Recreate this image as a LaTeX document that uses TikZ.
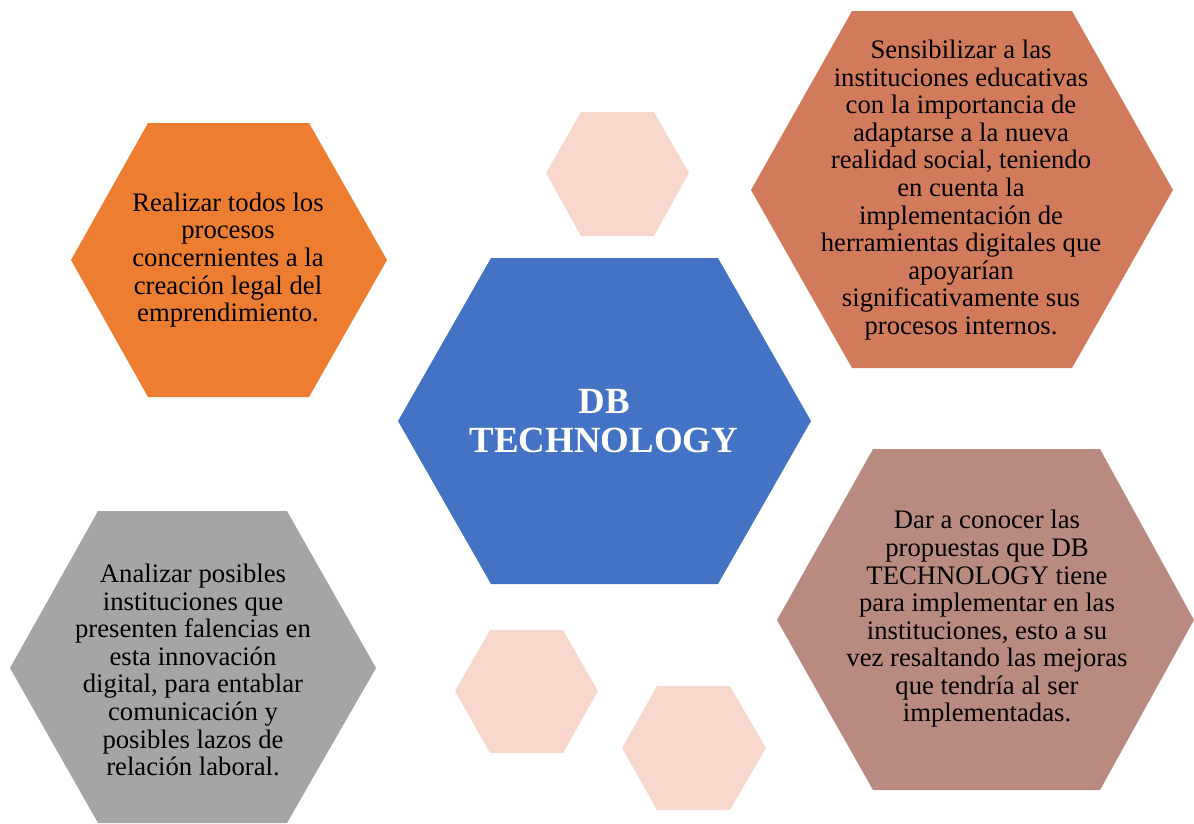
\documentclass[tikz,border=0pt]{standalone}
\usepackage{fontspec}
\setmainfont{Liberation Serif}
\definecolor{hexblue}{HTML}{4472C4}
\definecolor{hexorange}{HTML}{ED7D31}
\definecolor{hexterra}{HTML}{D27B5C}
\definecolor{hexrose}{HTML}{B98A80}
\definecolor{hexgray}{HTML}{A5A5A5}
\definecolor{hexpeach}{HTML}{F8D8CD}
\begin{document}
\begin{tikzpicture}[x=0.02cm, y=-0.02cm,
    txt/.style={align=center, font=\fontsize{15.2}{15.7}\selectfont},
    title/.style={align=center, text=white, font=\fontsize{21}{22}\selectfont\bfseries}]
\useasboundingbox (0,0) rectangle (1194,823);
% small decorative hexagons
\fill[hexpeach] (581,112) -- (654,112) -- (689,173) -- (654,236) -- (581,236) -- (546,173) -- cycle;
\fill[hexpeach] (490,630) -- (563,630) -- (598,691) -- (563,753) -- (490,753) -- (455,691) -- cycle;
\fill[hexpeach] (657,686) -- (730,686) -- (766,748) -- (730,810) -- (657,810) -- (622,748) -- cycle;
% center
\fill[hexblue] (491,258) -- (718,258) -- (811,421) -- (718,584) -- (491,584) -- (398,421) -- cycle;
\node[title] (center) at (604,421) {DB\\TECHNOLOGY};
% left top
\fill[hexorange] (148,123) -- (309,123) -- (387,260) -- (309,397) -- (148,397) -- (71,260) -- cycle;
\node[txt] (legal) at (228,260) {Realizar todos los\\procesos\\concernientes a la\\creación legal del\\emprendimiento.};
% right top
\fill[hexterra] (852,11) -- (1072,11) -- (1173,190) -- (1072,368) -- (852,368) -- (751,190) -- cycle;
\node[txt] (sensib) at (961,190) {Sensibilizar a las\\instituciones educativas\\con la importancia de\\adaptarse a la nueva\\realidad social, teniendo\\en cuenta la\\implementación de\\herramientas digitales que\\apoyarían\\significativamente sus\\procesos internos.};
% right bottom
\fill[hexrose] (873,449) -- (1100,449) -- (1194,620) -- (1100,790) -- (873,790) -- (777,620) -- cycle;
\node[txt] (propuestas) at (987,619) {Dar a conocer las\\propuestas que DB\\TECHNOLOGY tiene\\para implementar en las\\instituciones, esto a su\\vez resaltando las mejoras\\que tendría al ser\\implementadas.};
% left bottom
\fill[hexgray] (98,511) -- (287,511) -- (376,668) -- (287,823) -- (98,823) -- (10,668) -- cycle;
\node[txt] (analizar) at (193,670) {Analizar posibles\\instituciones que\\presenten falencias en\\esta innovación\\digital, para entablar\\comunicación y\\posibles lazos de\\relación laboral.};
\end{tikzpicture}
\end{document}
